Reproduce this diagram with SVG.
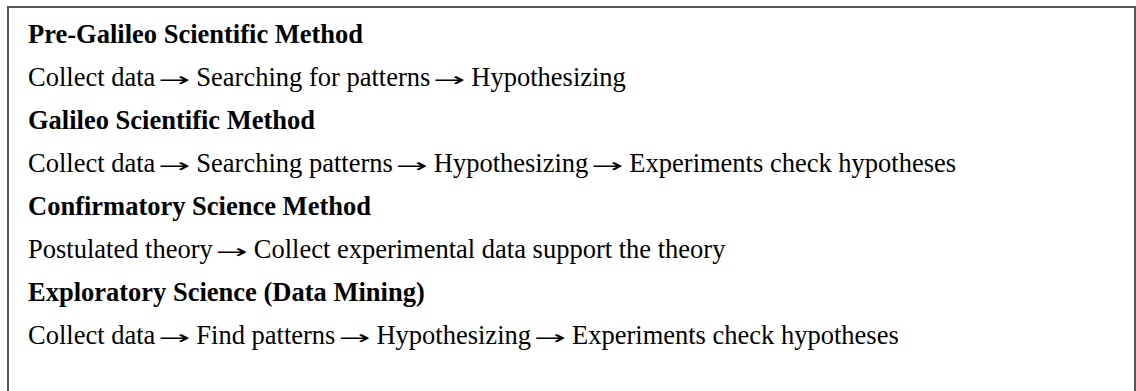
<svg xmlns="http://www.w3.org/2000/svg" width="1136" height="391" viewBox="0 0 1136 391">
  <style>
    .h { font-family: "Liberation Serif", "Times New Roman", serif; font-size: 26.5px; font-weight: bold; fill: #000; }
    .t { font-family: "Liberation Serif", "Times New Roman", serif; font-size: 26.5px; fill: #000; }
    .arr { font-family: "DejaVu Sans", sans-serif; font-size: 19px; }
    .frame { fill: none; stroke: #555; stroke-width: 2; }
  </style>
  <rect width="1136" height="391" fill="#fff"/>
  <!-- open frame: left, top and right edges only -->
  <path class="frame" d="M8,391 V7 H1135 V391"/>
  <g id="pre-galileo">
    <text class="h" x="28" y="42.5">Pre-Galileo Scientific Method</text>
    <text class="t" x="28" y="85.5">Collect data<tspan class="arr" dx="3" textLength="32" lengthAdjust="spacingAndGlyphs">→</tspan><tspan dx="6">Searching for patterns</tspan><tspan class="arr" dx="3" textLength="32" lengthAdjust="spacingAndGlyphs">→</tspan><tspan dx="6">Hypothesizing</tspan></text>
  </g>
  <g id="galileo">
    <text class="h" x="28" y="128.5">Galileo Scientific Method</text>
    <text class="t" x="28" y="171.5">Collect data<tspan class="arr" dx="3" textLength="32" lengthAdjust="spacingAndGlyphs">→</tspan><tspan dx="6">Searching patterns</tspan><tspan class="arr" dx="3" textLength="32" lengthAdjust="spacingAndGlyphs">→</tspan><tspan dx="6">Hypothesizing</tspan><tspan class="arr" dx="3" textLength="32" lengthAdjust="spacingAndGlyphs">→</tspan><tspan dx="6">Experiments check hypotheses</tspan></text>
  </g>
  <g id="confirmatory">
    <text class="h" x="28" y="214.5">Confirmatory Science Method</text>
    <text class="t" x="28" y="257.5">Postulated theory<tspan class="arr" dx="3" textLength="32" lengthAdjust="spacingAndGlyphs">→</tspan><tspan dx="6">Collect experimental data support the theory</tspan></text>
  </g>
  <g id="exploratory">
    <text class="h" x="28" y="300.5">Exploratory Science (Data Mining)</text>
    <text class="t" x="28" y="343.5">Collect data<tspan class="arr" dx="3" textLength="32" lengthAdjust="spacingAndGlyphs">→</tspan><tspan dx="6">Find patterns</tspan><tspan class="arr" dx="3" textLength="32" lengthAdjust="spacingAndGlyphs">→</tspan><tspan dx="6">Hypothesizing</tspan><tspan class="arr" dx="3" textLength="32" lengthAdjust="spacingAndGlyphs">→</tspan><tspan dx="6">Experiments check hypotheses</tspan></text>
  </g>
</svg>
